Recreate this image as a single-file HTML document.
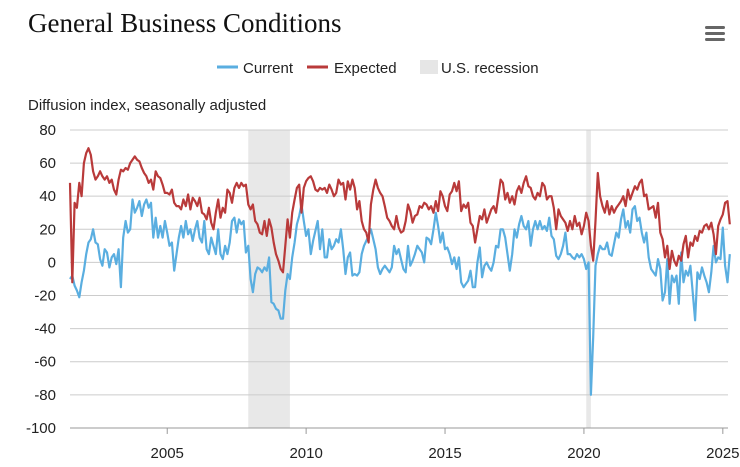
<!DOCTYPE html>
<html><head><meta charset="utf-8">
<style>
body{margin:0;background:#fff;width:740px;height:467px;overflow:hidden;font-family:"Liberation Sans",sans-serif;}
#chart{position:absolute;left:0;top:0}
</style></head>
<body>
<svg id="chart" width="740" height="467">
  <text x="28" y="32" font-family="Liberation Serif,serif" font-size="27" fill="#111">General Business Conditions</text>
  <g fill="#666">
    <rect x="705" y="26" width="20" height="3" rx="1.5"/><rect x="705" y="32" width="20" height="3" rx="1.5"/><rect x="705" y="38" width="20" height="3" rx="1.5"/>
  </g>
  <g font-size="15" fill="#222">
    <g><line x1="217" y1="67" x2="238" y2="67" stroke="#5aaee0" stroke-width="3"/><text x="243" y="73">Current</text></g>
    <g><line x1="307" y1="67" x2="328" y2="67" stroke="#b93a3a" stroke-width="3"/><text x="334" y="73">Expected</text></g>
    <g><rect x="420" y="60" width="18" height="14" fill="#e6e6e6"/><text x="441" y="73">U.S. recession</text></g>
  </g>
  <text x="28" y="110" font-size="15" fill="#222">Diffusion index, seasonally adjusted</text>
  <g id="rec"></g><g id="grid"></g><g id="lines"></g><g id="labels"></g>
</svg>
<script>
const startYear = 2001, startMonth = 7;
const yTicks = [80,60,40,20,0,-20,-40,-60,-80,-100];
const xTicks = [2005,2010,2015,2020,2025];
const recessions = [[2007.917,2009.417],[2020.083,2020.25]];
const current = [
-10,-8,-14,-17,-21,-12,
-5,5,12,14,20,12,11,2,-2,8,6,-3,
3,5,-1,8,-15,15,25,18,20,38,30,33,
37,28,35,38,33,36,15,27,15,22,15,25,
18,10,12,-5,5,15,22,15,25,17,20,13,
20,25,15,12,25,8,5,15,10,5,20,5,
2,10,5,12,25,27,18,26,23,25,6,10,
-10,-18,-7,-3,-4,-6,-3,-5,3,-24,-25,-28,
-29,-34,-34,-17,-7,-10,3,12,23,28,35,25,
16,20,5,13,19,25,8,20,3,3,14,8,
10,14,12,20,8,-7,3,6,-8,-7,-8,-6,
5,10,13,16,20,14,8,-3,-7,-4,-2,-4,
-6,-3,10,5,8,2,-4,-6,10,-2,1,5,
10,8,6,0,15,14,11,20,30,22,12,18,
8,9,5,-1,3,-4,3,-12,-15,-13,-11,-5,
-15,-15,0,9,-9,-2,0,-3,-5,0,10,9,
20,20,15,5,-5,5,20,15,23,28,22,20,
25,10,20,25,20,25,20,22,19,27,16,14,
4,2,5,10,18,5,5,3,2,5,3,5,
2,-4,0,-80,-45,-2,5,10,8,8,12,5,
4,11,18,15,26,32,21,25,18,32,34,25,
27,18,12,18,3,-4,-6,-8,2,-4,-23,-18,
2,-25,-8,-12,-8,-25,6,-12,-5,-8,-2,-18,
-35,-6,-10,-3,-8,-12,-18,-6,10,0,3,2,
21,-2,-12,5];
const expected = [
48,-12,36,33,48,40,
60,66,69,65,55,50,52,55,52,50,52,48,
50,44,41,50,56,55,57,56,60,62,64,62,
61,57,54,52,48,50,44,55,52,51,47,42,
42,41,44,36,34,34,32,38,34,41,32,39,
37,34,39,30,29,26,33,24,20,30,38,27,
33,30,44,42,36,45,48,45,48,46,47,35,
32,35,25,23,18,17,25,16,26,21,12,5,
1,-4,-6,10,26,15,30,38,45,47,30,45,
49,51,52,49,44,43,45,44,45,42,47,44,
40,42,50,47,48,38,49,44,50,45,32,37,
25,20,18,12,35,44,50,45,42,40,34,27,
25,22,20,28,21,18,19,25,35,31,24,28,
29,34,33,36,35,32,34,30,37,31,43,40,
34,31,41,43,48,43,49,31,35,33,36,24,
22,12,20,28,26,32,24,28,32,34,30,40,
50,48,38,42,36,40,35,43,46,42,48,52,
46,45,40,38,42,40,48,46,38,40,40,33,
20,32,28,26,24,19,25,20,28,22,24,17,
22,30,25,10,1,25,54,40,34,30,37,29,
34,30,33,35,37,40,34,44,38,42,46,44,
48,50,40,41,32,33,34,27,36,18,14,3,
10,-4,7,1,-2,4,1,11,16,3,12,10,
16,13,19,18,22,23,20,24,17,5,22,26,
29,36,37,23];

const X0=70, X1=728, PXY=27.78;
const xs = t => X0 + (t - 2001.5) * PXY;
const ys = v => 262.4 - v * 1.6556;
const NS='http://www.w3.org/2000/svg';
function mk(tag, parent){const e=document.createElementNS(NS,tag);document.getElementById(parent).appendChild(e);return e;}
recessions.forEach(r=>{
  const e=mk('rect','rec');
  
  
  e.setAttribute('x',xs(r[0]));e.setAttribute('y',ys(80));
  e.setAttribute('width',Math.max(4,xs(r[1])-xs(r[0])));e.setAttribute('height',ys(-100)-ys(80));
  e.setAttribute('fill','#e8e8e8');
});
yTicks.forEach(v=>{
  const g=mk('line','grid');
  
  
  g.setAttribute('x1',X0);g.setAttribute('x2',X1);g.setAttribute('y1',ys(v));g.setAttribute('y2',ys(v));
  g.setAttribute('stroke',v===-100?'#999':'#ccc');g.setAttribute('stroke-width','1');
  const t=mk('text','labels');
  
  
  t.setAttribute('x',56);t.setAttribute('y',ys(v)+5);t.setAttribute('text-anchor','end');
  t.setAttribute('font-size','15');t.setAttribute('fill','#222');t.textContent=v;
});
xTicks.forEach(y=>{
  const t=mk('text','labels');
  
  
  t.setAttribute('x',xs(y));t.setAttribute('y',458);t.setAttribute('text-anchor','middle');
  t.setAttribute('font-size','15');t.setAttribute('fill','#222');t.textContent=y;
  const k=mk('line','grid');
  
  
  k.setAttribute('x1',xs(y));k.setAttribute('x2',xs(y));k.setAttribute('y1',ys(-100));k.setAttribute('y2',ys(-100)+6);
  k.setAttribute('stroke','#999');
});
function series(arr,color,name){
  const p=mk('path','lines');
  
  
  let d='';
  arr.forEach((v,i)=>{const t=startYear+(startMonth-1+i)/12;d+=(i?'L':'M')+xs(t).toFixed(1)+','+ys(v).toFixed(1);});
  p.setAttribute('d',d);p.setAttribute('fill','none');p.setAttribute('stroke',color);
  p.setAttribute('stroke-width','2.2');p.setAttribute('stroke-linejoin','round');
}
series(current,'#5aaee0','current-line');
series(expected,'#b93a3a','expected-line');
</script>
</body></html>
